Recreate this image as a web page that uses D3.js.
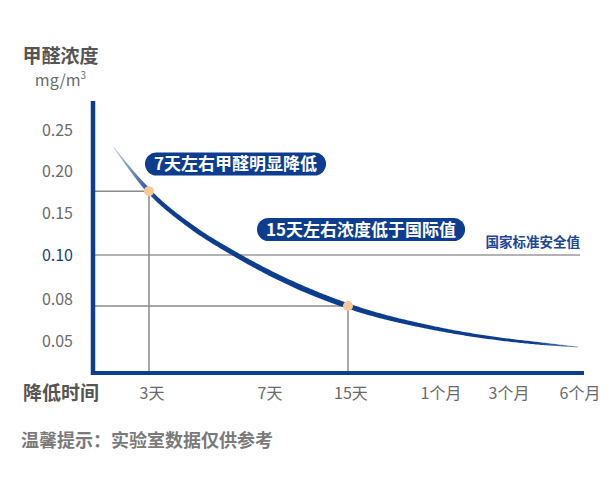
<!DOCTYPE html>
<html><head><meta charset="utf-8">
<script src="https://cdn.jsdelivr.net/npm/d3@7"></script>
<style>
html,body{margin:0;padding:0;background:#fff;}
svg{display:block;font-family:"Noto Sans CJK SC","Noto Sans",sans-serif;}
</style></head>
<body><svg id="c" width="614" height="502"></svg>
<script>
// ---- data ----
const yTicks = [0.05, 0.08, 0.10, 0.15, 0.20, 0.25];
const yTickLabels = ["0.05", "0.08", "0.10", "0.15", "0.20", "0.25"];
const xTicks = [3, 7, 15, 30, 90, 180];
const xTickLabels = ["3天", "7天", "15天", "1个月", "3个月", "6个月"];
// formaldehyde curve samples: [days, mg/m3]
const curveDays   = [1.8, 3, 4.4, 5.85, 9.3, 15, 30, 85, 133, 181];
const curveValues = [0.229, 0.176, 0.1345, 0.1024, 0.0873, 0.075, 0.0586, 0.0514, 0.0482, 0.0457];
// highlighted points
const markDays   = [3, 15];
const markValues = [0.176, 0.075];
const markLabels = ["7天左右甲醛明显降低", "15天左右浓度低于国际值"];
const safeValue = 0.10;
const safeLabel = "国家标准安全值";
const yTitle = "甲醛浓度";
const yUnit = "mg/m";
const xTitle = "降低时间";
const footer = "温馨提示：实验室数据仅供参考";

// ---- layout ----
const svg = d3.select("#c");
const blue = "#0c3d8e";
const grey = "#8a8a8a";
const textGrey = "#6a6a6a";
const axisX = 93, axisY = 373;

const x = d3.scaleLinear().domain(xTicks).range([149, 267, 348, 438, 506, 577]);
const y = d3.scaleLinear().domain(yTicks).range([341, 299, 255, 213, 171, 130]);

// safe-value gridline
svg.append("line").attr("x1", axisX).attr("x2", 580)
  .attr("y1", y(safeValue)).attr("y2", y(safeValue))
  .attr("stroke", "#9a9a9a").attr("stroke-width", 1.5);

// reference lines for marked points
markDays.forEach((d, i) => {
  const px = x(d), py = y(markValues[i]);
  svg.append("line").attr("x1", axisX).attr("x2", px).attr("y1", py).attr("y2", py)
    .attr("stroke", grey).attr("stroke-width", 1.5);
  svg.append("line").attr("x1", px).attr("x2", px).attr("y1", py).attr("y2", axisY)
    .attr("stroke", grey).attr("stroke-width", 1.5);
});

// curve (tapered brush stroke built from the scaled path)
const pts = curveDays.map((d, i) => [x(d), y(curveValues[i])]);
const lineGen = d3.line().curve(d3.curveMonotoneX);
const guide = svg.append("path").attr("d", lineGen(pts)).attr("fill", "none").attr("stroke", "none");
const node = guide.node();
const L = node.getTotalLength();
const N = 300;
const samples = d3.range(N + 1).map(k => node.getPointAtLength(L * k / N));
const wScale = d3.scaleLinear().domain([113, 145, 300, 350, 450, 540, 578])
  .range([0.6, 4.2, 5.6, 5.2, 3.6, 2.6, 0.8]).clamp(true);
const left = [], right = [];
samples.forEach((p, k) => {
  const a = samples[Math.max(0, k - 1)], b = samples[Math.min(N, k + 1)];
  let dx = b.x - a.x, dy = b.y - a.y; const len = Math.hypot(dx, dy) || 1;
  dx /= len; dy /= len;
  const w = wScale(p.x) / 2;
  left.push([p.x - dy * w, p.y + dx * w]);
  right.push([p.x + dy * w, p.y - dx * w]);
});
const defs = svg.append("defs");
const grad = defs.append("linearGradient").attr("id", "g").attr("gradientUnits", "userSpaceOnUse")
  .attr("x1", 113).attr("x2", 580).attr("y1", 0).attr("y2", 0);
[[0, "#c9d1e2"], [0.07, "#3b5fa3"], [0.1, blue], [0.9, blue], [1, "#7d97c6"]].forEach(s =>
  grad.append("stop").attr("offset", s[0]).attr("stop-color", s[1]));
svg.append("path")
  .attr("d", "M" + left.concat(right.reverse()).map(p => p.join(",")).join("L") + "Z")
  .attr("fill", "url(#g)");

// axes
svg.append("line").attr("x1", axisX).attr("x2", axisX).attr("y1", 101).attr("y2", axisY + 2)
  .attr("stroke", blue).attr("stroke-width", 4.5);
svg.append("line").attr("x1", axisX - 2).attr("x2", 584).attr("y1", axisY).attr("y2", axisY)
  .attr("stroke", blue).attr("stroke-width", 4.2);

// y tick labels
svg.append("g").selectAll("text").data(yTicks).join("text")
  .attr("x", 73).attr("y", d => y(d) + 5.8).attr("text-anchor", "end")
  .attr("font-size", 16)
  .attr("fill", d => d === safeValue ? "#1f3f7c" : textGrey)
  .text((d, i) => yTickLabels[i]);

// x tick labels
svg.append("g").selectAll("text").data(xTicks).join("text")
  .attr("x", d => x(d) + 3).attr("y", 399).attr("text-anchor", "middle")
  .attr("font-size", 16).attr("fill", textGrey)
  .text((d, i) => xTickLabels[i]);

// marked points
svg.append("g").selectAll("circle").data(markDays).join("circle")
  .attr("cx", d => x(d)).attr("cy", (d, i) => y(markValues[i])).attr("r", 5)
  .attr("fill", "#f6c99a");

// pills
const pillPos = [[145, 164], [257, 229.5]];
markLabels.forEach((t, i) => {
  const g = svg.append("g");
  const rect = g.append("rect");
  const txt = g.append("text").attr("x", pillPos[i][0] + 9).attr("y", pillPos[i][1] + 6.3)
    .attr("font-size", 17).attr("font-weight", "bold").attr("fill", "#fff").text(t);
  const tw = txt.node().getComputedTextLength();
  rect.attr("x", pillPos[i][0]).attr("y", pillPos[i][1] - 11.5).attr("width", tw + 18).attr("height", 23)
    .attr("rx", 11.5).attr("fill", blue);
});

// safe label
svg.append("text").attr("x", 580).attr("y", 247).attr("text-anchor", "end")
  .attr("font-size", 13.5).attr("font-weight", "bold").attr("fill", "#1d4698").text(safeLabel);

// titles
svg.append("text").attr("x", 60.5).attr("y", 63).attr("text-anchor", "middle")
  .attr("font-size", 19).attr("font-weight", "bold").attr("fill", "#555").text(yTitle);
const unit = svg.append("text").attr("x", 60.5).attr("y", 85.5).attr("text-anchor", "middle")
  .attr("font-size", 16).attr("fill", textGrey);
unit.append("tspan").text(yUnit);
unit.append("tspan").attr("font-size", 10).attr("dy", -7).text("3");
svg.append("text").attr("x", 23).attr("y", 399.5)
  .attr("font-size", 19).attr("font-weight", "bold").attr("fill", "#555").text(xTitle);
svg.append("text").attr("x", 21).attr("y", 446.5)
  .attr("font-size", 18).attr("font-weight", 600).attr("fill", "#7a7a7a").text(footer);
</script></body></html>
